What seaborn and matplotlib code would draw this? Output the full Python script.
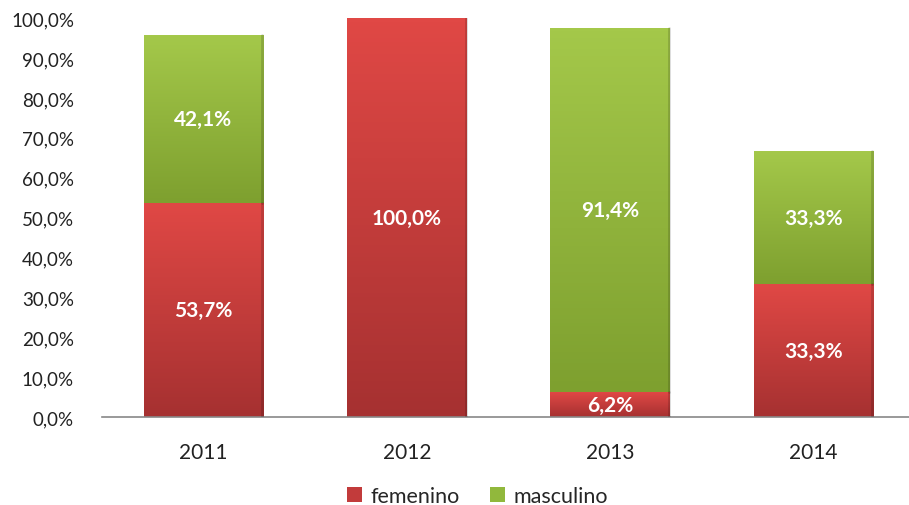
import numpy as np
import pandas as pd
import matplotlib
matplotlib.use('Agg')
import matplotlib.pyplot as plt
from matplotlib.patches import Patch
from matplotlib.colors import LinearSegmentedColormap
import seaborn as sns

years = ['2011', '2012', '2013', '2014']
femenino = [53.7, 100.0, 6.2, 33.3]
masculino = [42.1, 0.0, 91.4, 33.3]

sns.set_theme(style='white')
plt.rcParams['font.family'] = ['Lato', 'DejaVu Sans']

df = pd.DataFrame({'year': years, 'femenino': femenino, 'masculino': masculino})
df['total'] = df['femenino'] + df['masculino']

fig = plt.figure(figsize=(9.09, 5.06), dpi=100)
ax = fig.add_axes([0.112, 0.174, 0.895, 0.788])

red_top, red_bot = '#E04845', '#A63131'
green_top, green_bot = '#A4C84A', '#7EA02F'

sns.barplot(data=df, x='year', y='total', color=green_top, width=0.59,
            saturation=1, ax=ax, edgecolor='none')
sns.barplot(data=df, x='year', y='femenino', color=red_top, width=0.59,
            saturation=1, ax=ax, edgecolor='none')

def shade(patch, ylo, yhi, c_top, c_bot):
    # vertical gradient clipped to the bar, darker right edge
    if yhi - ylo <= 0:
        patch.set_visible(False)
        return
    x0 = patch.get_x()
    w = patch.get_width()
    cmap = LinearSegmentedColormap.from_list('g', [c_bot, c_top])
    grad = np.linspace(0, 1, 100).reshape(-1, 1) * np.ones((1, 20))
    im = ax.imshow(grad, cmap=cmap, origin='lower', aspect='auto',
                   extent=[x0, x0 + w, ylo, yhi], zorder=2, vmin=0, vmax=1)
    im.set_clip_path(patch)
    patch.set_facecolor('none')
    ax.plot([x0 + w - 0.006, x0 + w - 0.006], [ylo, yhi], color='black',
            alpha=0.15, lw=2, zorder=3)

n = len(years)
for i in range(n):
    shade(ax.patches[i], femenino[i], df['total'][i], green_top, green_bot)
    shade(ax.patches[n + i], 0, femenino[i], red_top, red_bot)

def fmt(v):
    return f'{v:.1f}%'.replace('.', ',')

for i in range(n):
    if femenino[i] > 0:
        ax.text(i, femenino[i] / 2, fmt(femenino[i]), ha='center', va='center',
                color='white', fontsize=15, fontweight='bold', zorder=5)
    if masculino[i] > 0:
        ax.text(i, femenino[i] + masculino[i] / 2, fmt(masculino[i]), ha='center',
                va='center', color='white', fontsize=15, fontweight='bold', zorder=5)

ax.set_ylim(0, 100)
ax.set_xlim(-0.5, 3.5)
ax.set_yticks(np.arange(0, 101, 10))
ax.set_yticklabels([fmt(v) for v in np.arange(0, 101, 10)], fontsize=13.5, color='#222222')
ax.tick_params(axis='x', labelsize=15, colors='#222222', pad=12)
ax.tick_params(axis='y', pad=14)
ax.set_xlabel('')
ax.set_ylabel('')
for s in ['top', 'right', 'left']:
    ax.spines[s].set_visible(False)
ax.spines['bottom'].set_color('#888888')
ax.spines['bottom'].set_linewidth(1.2)

handles = [Patch(facecolor='#C23B3B', edgecolor='none', label='femenino'),
           Patch(facecolor='#91B83C', edgecolor='none', label='masculino')]
fig.legend(handles=handles, loc='lower center', bbox_to_anchor=(0.525, -0.04), ncol=2,
           frameon=False, fontsize=15.5, handlelength=0.7, handleheight=0.7,
           handletextpad=0.4, columnspacing=1.4)

fig.savefig('out.png', dpi=100)
